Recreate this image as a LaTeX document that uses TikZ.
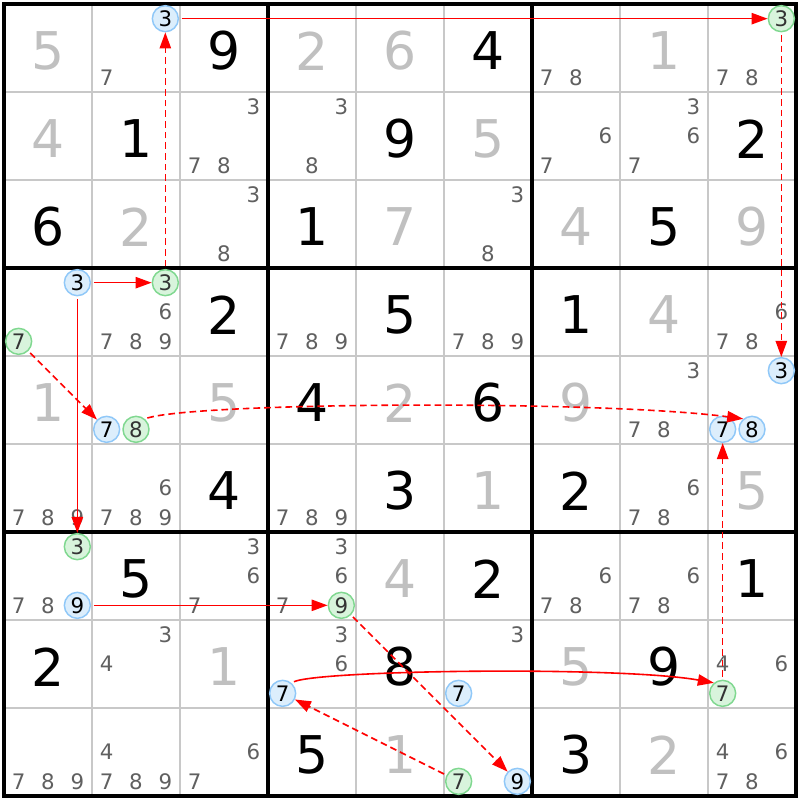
\documentclass[tikz,border=0pt]{standalone}
\usepackage{fontspec}
\setmainfont{DejaVu Sans}
\usetikzlibrary{arrows.meta}
\definecolor{solvedgray}{HTML}{C0C0C0}
\definecolor{candgray}{HTML}{606060}
\definecolor{gridgray}{HTML}{C8C8C8}
\definecolor{onfill}{HTML}{DCEEFC}
\definecolor{onedge}{HTML}{90C8F8}
\definecolor{offfill}{HTML}{D8F4DC}
\definecolor{offedge}{HTML}{80D890}
\definecolor{linkred}{HTML}{FF0000}
\begin{document}
\begin{tikzpicture}[x=0.75pt,y=-0.75pt,
  given/.style={font=\fontsize{39}{39}\selectfont,inner sep=0pt},
  solved/.style={given,text=solvedgray},
  cand/.style={font=\fontsize{16}{16}\selectfont,text=candgray,inner sep=0pt},
  bluec/.style={cand,text=black,circle,draw=onedge,fill=onfill,line width=1.1pt,minimum size=19.5pt},
  greenc/.style={cand,text=black!80,circle,draw=offedge,fill=offfill,line width=1.1pt,minimum size=19.5pt},
  link/.style={draw=linkred,line width=1.2pt,shorten <=2pt,-{Triangle[length=12pt,width=8.5pt,fill=linkred]}},
  weak/.style={link,dash pattern=on 5pt off 3pt}]
  \useasboundingbox[fill=white] (0,0) rectangle (800,800);
  % grid
  \foreach \i in {1,2,4,5,7,8}{
    \draw[gridgray,line width=0.9pt] ({4+88*\i},4) -- ({4+88*\i},796);
    \draw[gridgray,line width=0.9pt] (4,{4+88*\i}) -- (796,{4+88*\i});
  }
  \foreach \i in {3,6}{
    \draw[line width=2.3pt] ({4+88*\i},4) -- ({4+88*\i},796);
    \draw[line width=2.3pt] (4,{4+88*\i}) -- (796,{4+88*\i});
  }
  \draw[line width=3pt] (4,4) rectangle (796,796);
  % given and solved digits
  \foreach \r/\c/\d in {1/3/9,1/6/4,2/2/1,2/5/9,2/9/2,3/1/6,3/4/1,3/8/5,4/3/2,4/5/5,4/7/1,
    5/4/4,5/6/6,6/3/4,6/5/3,6/7/2,7/2/5,7/6/2,7/9/1,8/1/2,8/5/8,8/8/9,9/4/5,9/7/3}
    \node[given] (g\r\c) at ({88*\c-40},{88*\r-37}) {\d};
  \foreach \r/\c/\d in {1/1/5,1/4/2,1/5/6,1/8/1,2/1/4,2/6/5,3/2/2,3/5/7,3/7/4,3/9/9,4/8/4,
    5/1/1,5/3/5,5/5/2,5/7/9,6/6/1,6/9/5,7/5/4,8/3/1,8/7/5,9/5/1,9/8/2}
    \node[solved] (g\r\c) at ({88*\c-40},{88*\r-37}) {\d};
  % candidates
  \foreach \r/\c/\ns in {1/2/{7},1/7/{7,8},1/9/{7,8},2/3/{3,7,8},2/4/{3,8},2/7/{6,7},2/8/{3,6,7},
    3/3/{3,8},3/6/{3,8},4/2/{6,7,8,9},4/4/{7,8,9},4/6/{7,8,9},4/9/{6,7,8},5/8/{3,7,8},
    6/1/{7,8,9},6/2/{6,7,8,9},6/4/{7,8,9},6/8/{6,7,8},7/1/{7,8},7/3/{3,6,7},7/4/{3,6,7},
    7/7/{6,7,8},7/8/{6,7,8},8/2/{3,4},8/4/{3,6},8/6/{3},8/9/{4,6},9/1/{7,8,9},9/2/{4,7,8,9},
    9/3/{6,7},9/9/{4,6,7,8}}{
    \foreach \n in \ns {
      \pgfmathsetmacro\cx{88*(\c-1)+18.667+29.333*mod(\n-1,3)}
      \pgfmathsetmacro\cy{88*(\r-1)+18.667+29.333*floor((\n-1)/3)}
      \node[cand] (p\r\c\n) at (\cx,\cy) {\n};
    }
  }
  % circled candidates
  \foreach \r/\c/\n/\s in {1/2/3/bluec,1/9/3/greenc,4/1/3/bluec,4/1/7/greenc,4/2/3/greenc,
    5/2/7/bluec,5/2/8/greenc,5/9/3/bluec,5/9/7/bluec,5/9/8/bluec,7/1/3/greenc,7/1/9/bluec,
    7/4/9/greenc,8/4/7/bluec,8/6/7/bluec,8/9/7/greenc,9/6/7/greenc,9/6/9/bluec}{
    \pgfmathsetmacro\cx{88*(\c-1)+18.667+29.333*mod(\n-1,3)}
    \pgfmathsetmacro\cy{88*(\r-1)+18.667+29.333*floor((\n-1)/3)}
    \node[\s] (k\r\c\n) at (\cx,\cy) {\n};
  }
  % links
  \draw[link] (k123) -- (k193);
  \draw[weak] (k193) -- (k593);
  \draw[weak] (k423) -- (k123);
  \draw[link] (k413) -- (k423);
  \draw[link] (k413) -- (k713);
  \draw[weak] (k417) -- (k527);
  \draw[weak] (k528.50) .. controls (200,402) and (600,400) .. (k598.130);
  \draw[weak] (k897) -- (k597);
  \draw[link] (k847.50) .. controls (320,670) and (620,666) .. (k897.130);
  \draw[weak] (k967) -- (k847);
  \draw[link] (k719) -- (k749);
  \draw[weak] (k749) -- (k969);
\end{tikzpicture}
\end{document}
